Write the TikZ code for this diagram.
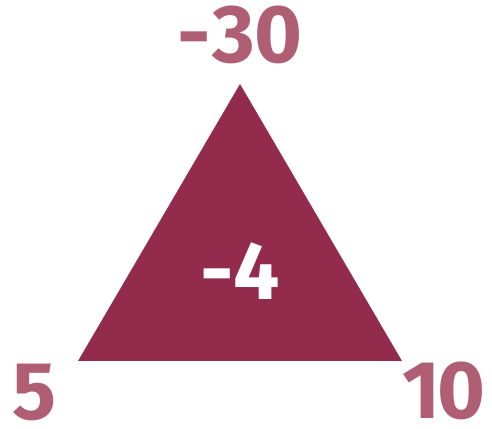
\documentclass[tikz,border=0pt]{standalone}
\usepackage{fontspec}
\setmainfont{Fira Sans}[Numbers=Proportional]
\definecolor{tri}{HTML}{932B4D}
\definecolor{lab}{HTML}{B05E73}
\begin{document}
\begin{tikzpicture}[x=1pt,y=1pt,
  lbl/.style={text=lab,font=\fontsize{82}{82}\selectfont\bfseries,inner sep=0pt,anchor=center},
  mid/.style={text=white,font=\fontsize{82}{82}\selectfont\bfseries,inner sep=0pt,anchor=center}]
\useasboundingbox (0,0) rectangle (492,428);
\coordinate (A) at (240,344);
\coordinate (B) at (78,67);
\coordinate (C) at (402,67);
\fill[tri] (A) -- (B) -- (C) -- cycle;
\node[mid] (m) at (240,157) {-4};
\node[lbl] (t) at (240,393) {-\kern2pt30};
\node[lbl] (l) at (34,36) {5};
\node[lbl] (r) at (444,37) {1\kern-4pt0};
\end{tikzpicture}
\end{document}
